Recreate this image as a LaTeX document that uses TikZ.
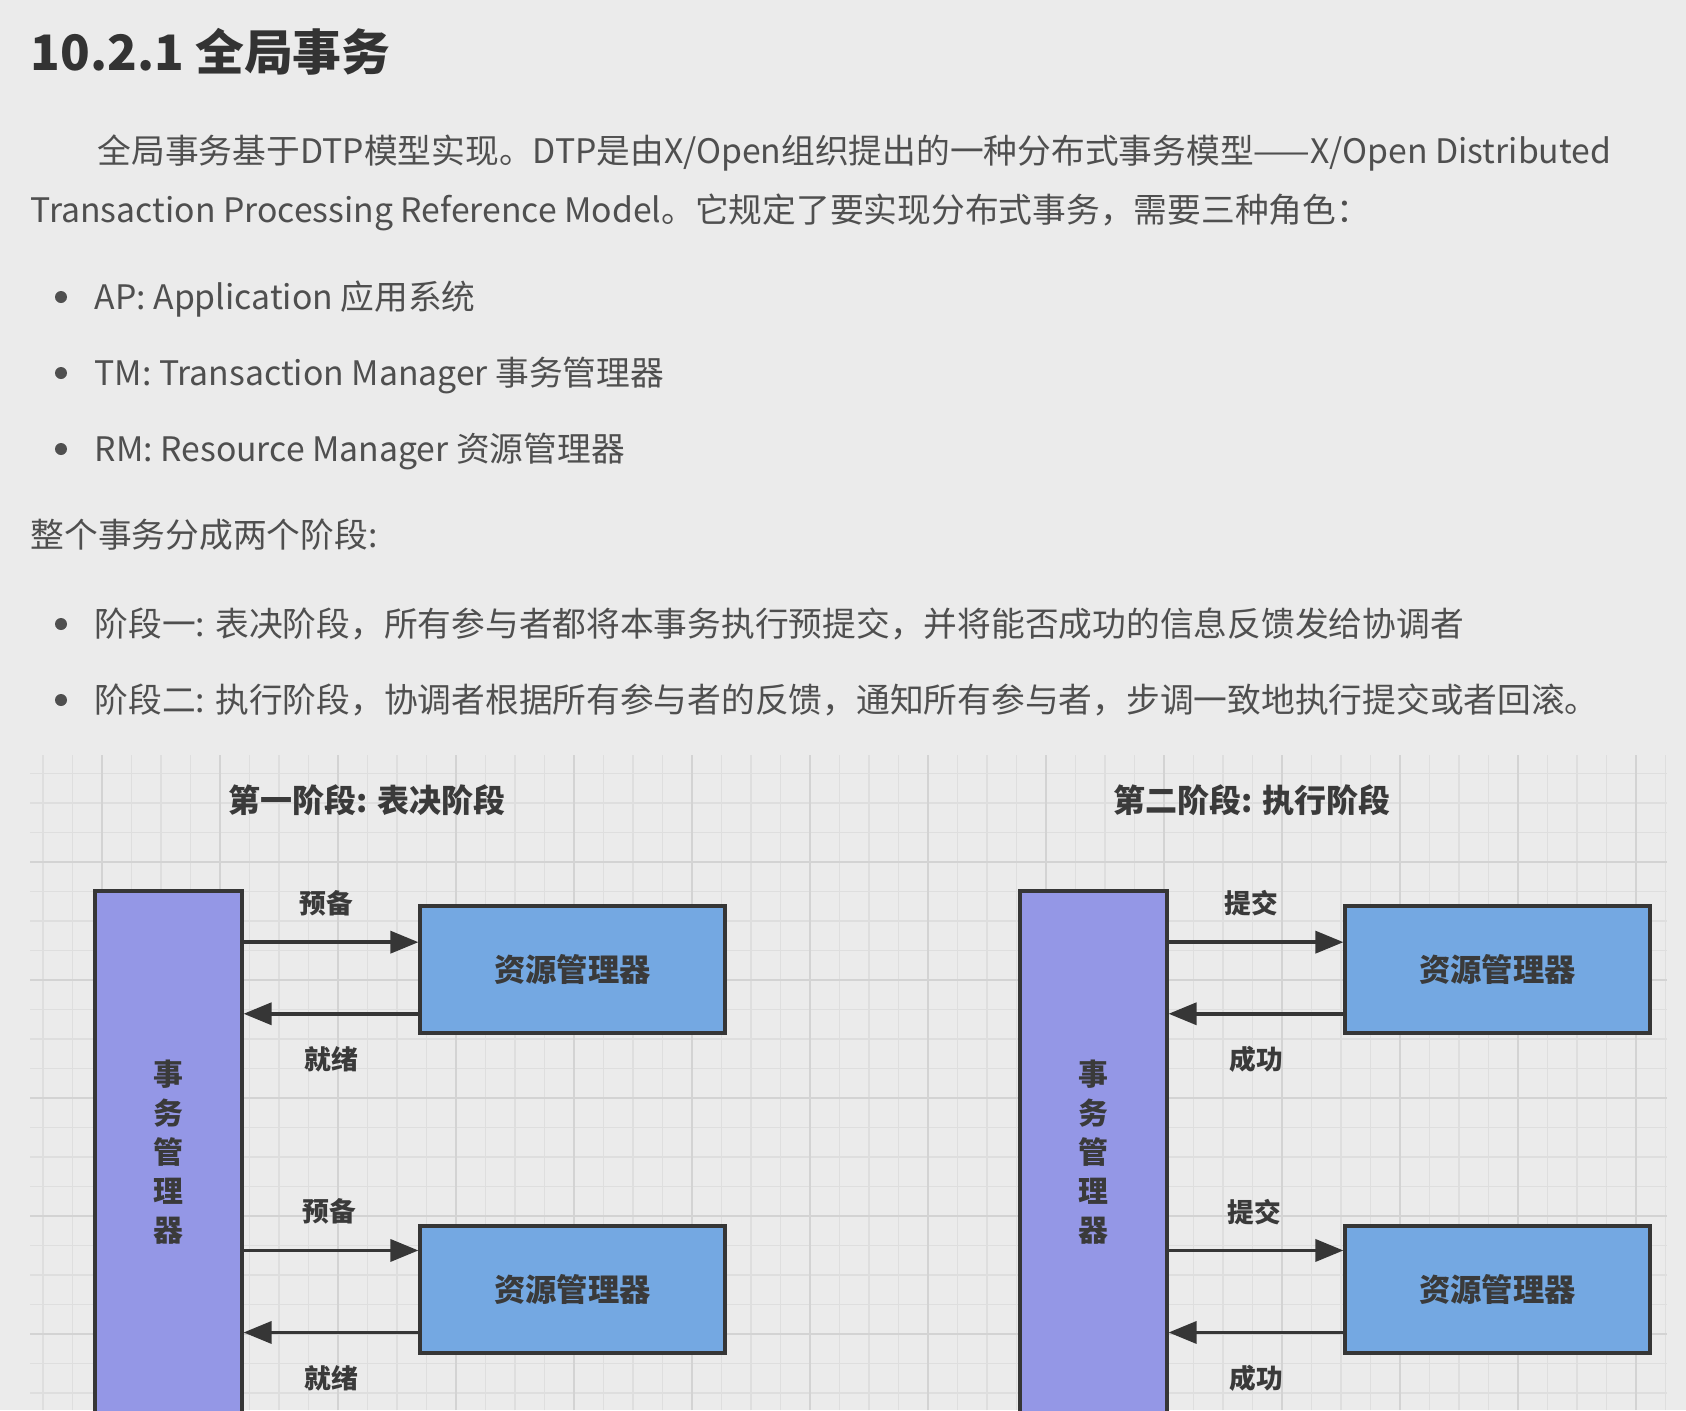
\documentclass[tikz,border=0pt]{standalone}
\usepackage{fontspec}
\setmainfont{Noto Sans CJK SC}
\usepackage{tikz}
\usetikzlibrary{arrows.meta,calc}
\usepackage{xcolor}

\definecolor{pagebg}{HTML}{EBEBEB}
\definecolor{bodytext}{HTML}{4F4F4F}
\definecolor{headtext}{HTML}{333333}
\definecolor{diagtext}{HTML}{3A3A3A}
\definecolor{boxline}{HTML}{363636}
\definecolor{tmfill}{HTML}{9497E6}
\definecolor{rmfill}{HTML}{74A8E2}
\definecolor{gridminor}{HTML}{DEDEDE}
\definecolor{gridmajor}{HTML}{D3D3D3}

\begin{document}
\begin{tikzpicture}[
  body/.style={anchor=west, inner sep=0, text=bodytext, text height=0.82em, text depth=0.1em, font=\fontsize{9.6}{11}\selectfont},
  heading/.style={anchor=west, inner sep=0, text=headtext, font=\fontsize{13.9}{17}\selectfont\bfseries},
  dot/.style={circle, fill=bodytext, inner sep=0, minimum size=0.12cm},
  tmbox/.style={draw=boxline, line width=0.9pt, fill=tmfill, minimum width=1.47cm, minimum height=5.22cm, align=center, text=diagtext, font=\fontsize{8.5}{11.1}\selectfont\bfseries},
  rmbox/.style={draw=boxline, line width=0.9pt, fill=rmfill, minimum width=3.05cm, minimum height=1.27cm, text=diagtext, font=\fontsize{8.9}{11}\selectfont\bfseries},
  phase/.style={text=diagtext, font=\fontsize{9.1}{11}\selectfont\bfseries},
  msg/.style={inner sep=0, text=diagtext, font=\fontsize{7.6}{9}\selectfont\bfseries},
  arrow/.style={-{Triangle[length=0.28cm, width=0.22cm]}, line width=1pt, draw=boxline},
]
  \useasboundingbox (0,0) rectangle (16.86,14.10);
  \fill[pagebg] (0,0) rectangle (16.86,14.10);

  % Text
  \node[heading] (title) at (0.30,13.58) {10.2.1 全局事务};
  \node[body] (intro1) at (0.97,12.59) {全局事务基于DTP模型实现。DTP是由X/Open组织提出的一种分布式事务模型——X/Open Distributed};
  \node[body] (intro2) at (0.30,12.00) {Transaction Processing Reference Model。它规定了要实现分布式事务，需要三种角色：};
  \node[dot] (d1) at (0.61,11.13) {};
  \node[body] (ap) at (0.94,11.13) {AP: Application 应用系统};
  \node[dot] (d2) at (0.61,10.37) {};
  \node[body] (tm) at (0.94,10.37) {TM: Transaction Manager 事务管理器};
  \node[dot] (d3) at (0.61,9.61) {};
  \node[body] (rm) at (0.94,9.61) {RM: Resource Manager 资源管理器};
  \node[body] (phases) at (0.30,8.75) {整个事务分成两个阶段:};
  \node[dot] (d4) at (0.61,7.86) {};
  \node[body] (vote) at (0.94,7.86) {阶段一: 表决阶段，所有参与者都将本事务执行预提交，并将能否成功的信息反馈发给协调者};
  \node[dot] (d5) at (0.61,7.10) {};
  \node[body] (exec) at (0.94,7.10) {阶段二: 执行阶段，协调者根据所有参与者的反馈，通知所有参与者，步调一致地执行提交或者回滚。};

  % Grid
  \begin{scope}[shift={(2.20,5.48)}]
    \draw[gridminor, line width=0.3pt, step=0.295] (-1.90,-5.48) grid (14.47,1.07);
    \draw[gridmajor, line width=0.35pt, step=1.18] (-1.90,-5.48) grid (14.47,1.07);
  \end{scope}

  % Phase one
  \node[phase] (p1title) at (3.67,6.10) {第一阶段: 表决阶段};
  \node[tmbox] (tm1) at (1.685,2.58) {事\\务\\管\\理\\器};
  \node[rmbox] (rm1a) at (5.725,4.405) {资源管理器};
  \node[rmbox] (rm1b) at (5.725,1.205) {资源管理器};

  % Phase two
  \node[phase] (p2title) at (12.52,6.10) {第二阶段: 执行阶段};
  \node[tmbox] (tm2) at (10.935,2.58) {事\\务\\管\\理\\器};
  \node[rmbox] (rm2a) at (14.975,4.405) {资源管理器};
  \node[rmbox] (rm2b) at (14.975,1.205) {资源管理器};

  % Arrows
  \coordinate (a1) at ($(rm1a.north west)!0.29!(rm1a.south west)$);
  \coordinate (a2) at ($(rm1a.north west)!0.84!(rm1a.south west)$);
  \coordinate (a3) at ($(rm1b.north west)!0.20!(rm1b.south west)$);
  \coordinate (a4) at ($(rm1b.north west)!0.83!(rm1b.south west)$);
  \draw[arrow] (tm1.east |- a1) -- (a1) node[midway, above=0.24cm, xshift=-0.05cm, msg] {预备};
  \draw[arrow] (a2) -- (tm1.east |- a2) node[midway, below=0.31cm, msg] {就绪};
  \draw[arrow] (tm1.east |- a3) -- (a3) node[midway, above=0.24cm, xshift=-0.02cm, msg] {预备};
  \draw[arrow] (a4) -- (tm1.east |- a4) node[midway, below=0.31cm, msg] {就绪};

  \coordinate (b1) at ($(rm2a.north west)!0.29!(rm2a.south west)$);
  \coordinate (b2) at ($(rm2a.north west)!0.84!(rm2a.south west)$);
  \coordinate (b3) at ($(rm2b.north west)!0.20!(rm2b.south west)$);
  \coordinate (b4) at ($(rm2b.north west)!0.83!(rm2b.south west)$);
  \draw[arrow] (tm2.east |- b1) -- (b1) node[midway, above=0.24cm, xshift=-0.05cm, msg] {提交};
  \draw[arrow] (b2) -- (tm2.east |- b2) node[midway, below=0.31cm, msg] {成功};
  \draw[arrow] (tm2.east |- b3) -- (b3) node[midway, above=0.24cm, xshift=-0.02cm, msg] {提交};
  \draw[arrow] (b4) -- (tm2.east |- b4) node[midway, below=0.31cm, msg] {成功};
\end{tikzpicture}
\end{document}
